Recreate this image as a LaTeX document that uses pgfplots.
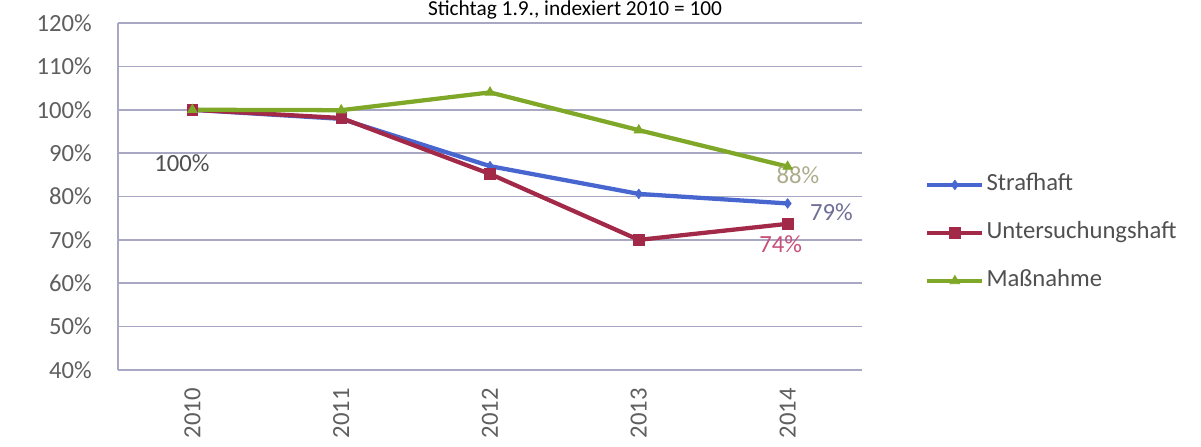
\documentclass[border=0pt]{standalone}
\usepackage{fontspec}
\setmainfont{Carlito}
\usepackage{pgfplots}
\pgfplotsset{compat=1.18}
\definecolor{gridc}{RGB}{168,168,196}
\definecolor{cblue}{RGB}{72,102,208}
\definecolor{cred}{RGB}{162,42,72}
\definecolor{cgreen}{RGB}{128,168,40}
\definecolor{tickc}{RGB}{95,95,95}
\definecolor{legc}{RGB}{80,80,80}
\begin{document}
\begin{tikzpicture}
\useasboundingbox (0,0) rectangle (900.75pt,334.5pt);
\node[anchor=base, text=black, font=\fontsize{16}{19}\selectfont] at (431.25pt,322.5pt) {Stichtag 1.9., indexiert 2010 = 100};
\begin{axis}[
  at={(88.5pt,57pt)}, anchor=south west,
  scale only axis, width=558pt, height=260.25pt,
  xmin=-0.5, xmax=4.5, ymin=40, ymax=120,
  xtick={0,1,2,3,4}, xticklabels={2010,2011,2012,2013,2014},
  ytick={40,50,60,70,80,90,100,110,120},
  yticklabels={40\%,50\%,60\%,70\%,80\%,90\%,100\%,110\%,120\%},
  axis x line*=bottom, axis y line*=left,
  axis line style={gridc, line width=1.3pt, -},
  ymajorgrids, major grid style={gridc, line width=1.3pt},
  major tick length=0pt,
  /pgf/number format/assume math mode=true,
  tick label style={text=tickc, font=\fontsize{18.5}{22}\selectfont},
  xticklabel style={rotate=90, anchor=east, inner sep=0pt},
  xticklabel shift=13.5pt,
  yticklabel style={anchor=east, inner sep=0pt},
  yticklabel shift=19.5pt,
  clip=false,
  legend style={at={(1.0847,0.395)}, anchor=west, draw=none, fill=none,
    inner sep=0pt, row sep=19pt,
    font=\fontsize{18.5}{22}\selectfont,
    nodes={text=legc, inner xsep=1.5pt, inner ysep=0pt, text height=13pt, text depth=4pt, anchor=west}},
  legend cell align=left,
  legend image code/.code={\draw[mark repeat=2,mark phase=2,#1] plot coordinates {(0pt,0pt) (20.6pt,0pt) (41.25pt,0pt)};},
]
\addplot[cblue, line width=3.2pt, mark=diamond*, mark size=3.6pt, mark options={solid, fill=cblue, draw=cblue, line width=0.5pt}]
  coordinates {(0,100) (1,97.9) (2,87.0) (3,80.6) (4,78.4)};
\addlegendentry{Strafhaft}
\addplot[cred, line width=3.2pt, mark=square*, mark size=4pt, mark options={solid, fill=cred, draw=cred, line width=0.5pt}]
  coordinates {(0,100) (1,98.1) (2,85.2) (3,70.0) (4,73.7)};
\addlegendentry{Untersuchungshaft}
\addplot[cgreen, line width=3.2pt, mark=triangle*, mark size=4.2pt, mark options={solid, fill=cgreen, draw=cgreen, line width=0.5pt}]
  coordinates {(0,100) (1,99.9) (2,104.0) (3,95.3) (4,86.9)};
\addlegendentry{Maßnahme}
\node[text={rgb,255:red,80;green,80;blue,80}, font=\fontsize{18.5}{22}\selectfont] at (axis cs:-0.07,87.7) {100\%};
\node[text={rgb,255:red,172;green,172;blue,140}, font=\fontsize{18.5}{22}\selectfont] at (axis cs:4.07,85.0) {88\%};
\node[text={rgb,255:red,110;green,110;blue,150}, font=\fontsize{18.5}{22}\selectfont] at (axis cs:4.295,76.4) {79\%};
\node[text={rgb,255:red,200;green,80;blue,120}, font=\fontsize{18.5}{22}\selectfont] at (axis cs:3.953,69.05) {74\%};
\end{axis}
\end{tikzpicture}
\end{document}
